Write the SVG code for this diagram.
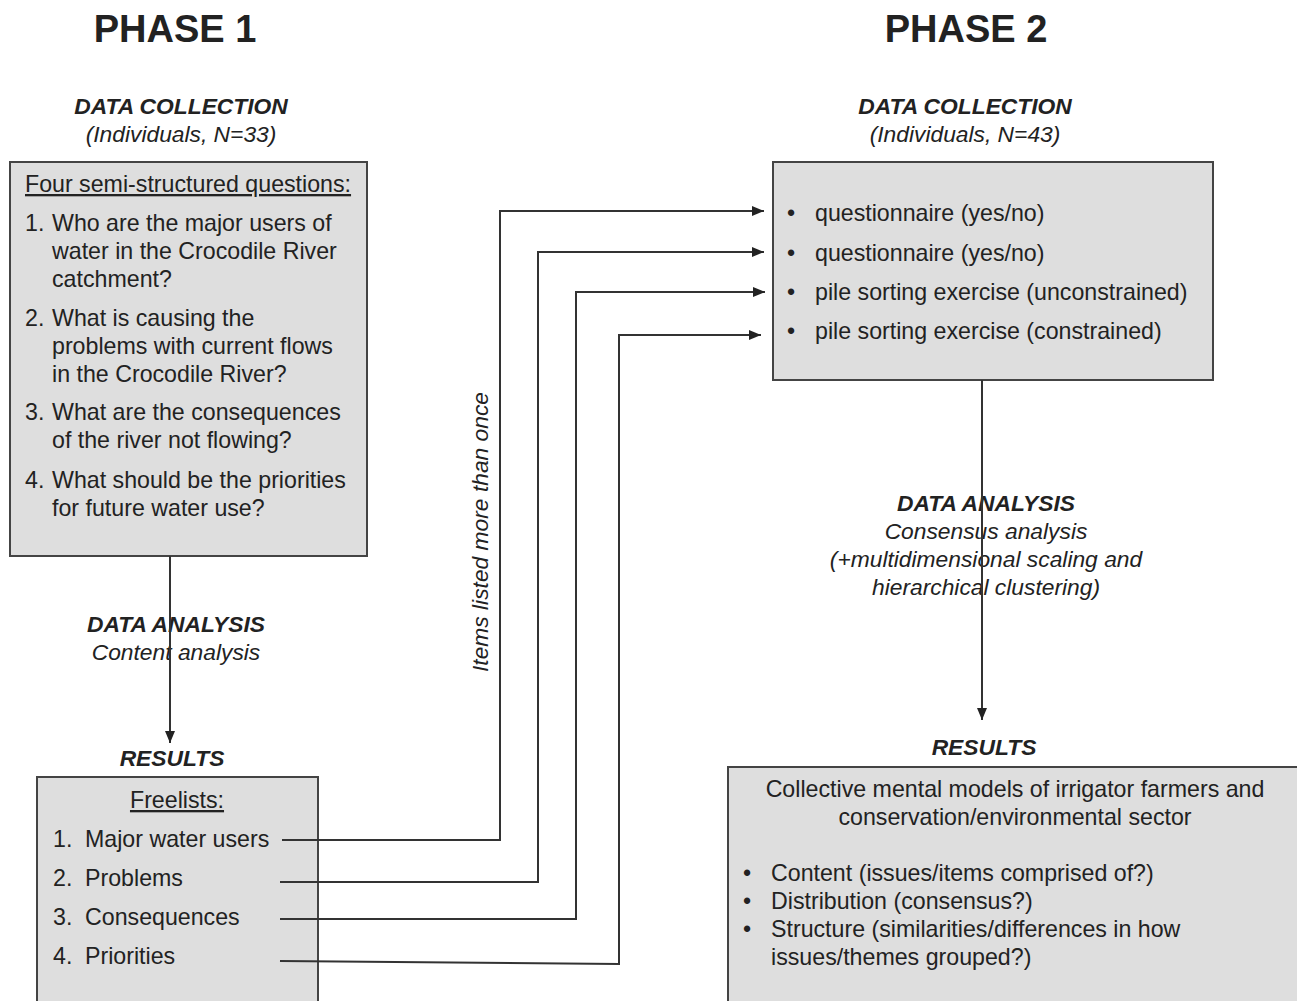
<svg xmlns="http://www.w3.org/2000/svg" width="1297" height="1001" viewBox="0 0 1297 1001">
<style>
text{font-family:"Liberation Sans",Arial,sans-serif;fill:#222;}
.ph{font-size:38px;font-weight:bold;text-anchor:middle;}
.h{font-size:22.8px;font-weight:bold;font-style:italic;text-anchor:middle;}
.i{font-size:22.8px;font-style:italic;text-anchor:middle;}
.t{font-size:23.2px;}
.c{text-anchor:middle;}
.u{text-decoration:underline;}
.box{fill:#dedede;stroke:#444;stroke-width:2;}
.ln{fill:none;stroke:#333;stroke-width:2;}
</style>
<defs>
<marker id="ah" markerUnits="userSpaceOnUse" markerWidth="12" markerHeight="12" viewBox="0 0 12 12" refX="12" refY="6" orient="auto">
<path d="M0,1 L12,6 L0,11 Z" fill="#222"/>
</marker>
</defs>
<rect width="1297" height="1001" fill="#fff"/>
<text class="ph" x="175" y="42">PHASE 1</text>
<text class="ph" x="966" y="42">PHASE 2</text>

<g id="p1-collection-label">
<text class="h" x="181" y="114">DATA COLLECTION</text>
<text class="i" x="181" y="142">(Individuals, N=33)</text>
</g>
<g id="p1-questions">
<rect class="box" x="10" y="162" width="357" height="394"/>
<text class="t u" x="25" y="192">Four semi-structured questions:</text>
<text class="t" x="25" y="231">1.</text>
<text class="t" x="52" y="231">Who are the major users of</text>
<text class="t" x="52" y="259">water in the Crocodile River</text>
<text class="t" x="52" y="287">catchment?</text>
<text class="t" x="25" y="326">2.</text>
<text class="t" x="52" y="326">What is causing the</text>
<text class="t" x="52" y="354">problems with current flows</text>
<text class="t" x="52" y="382">in the Crocodile River?</text>
<text class="t" x="25" y="420">3.</text>
<text class="t" x="52" y="420">What are the consequences</text>
<text class="t" x="52" y="448">of the river not flowing?</text>
<text class="t" x="25" y="488">4.</text>
<text class="t" x="52" y="488">What should be the priorities</text>
<text class="t" x="52" y="516">for future water use?</text>
</g>

<g id="p1-analysis-label">
<text class="h" x="176" y="632">DATA ANALYSIS</text>
<text class="i" x="176" y="660">Content analysis</text>
</g>
<g id="p1-results-label">
<text class="h" x="172" y="766">RESULTS</text>
</g>
<g id="p1-freelists">
<rect class="box" x="37" y="777" width="281" height="240"/>
<text class="t u c" x="177" y="808">Freelists:</text>
<text class="t" x="53" y="847">1.</text>
<text class="t" x="85" y="847">Major water users</text>
<text class="t" x="53" y="886">2.</text>
<text class="t" x="85" y="886">Problems</text>
<text class="t" x="53" y="925">3.</text>
<text class="t" x="85" y="925">Consequences</text>
<text class="t" x="53" y="964">4.</text>
<text class="t" x="85" y="964">Priorities</text>
</g>

<g id="p2-collection-label">
<text class="h" x="965" y="114">DATA COLLECTION</text>
<text class="i" x="965" y="142">(Individuals, N=43)</text>
</g>
<g id="p2-collection">
<rect class="box" x="773" y="162" width="440" height="218"/>
<text class="t" x="787" y="221">•</text>
<text class="t" x="815" y="221">questionnaire (yes/no)</text>
<text class="t" x="787" y="261">•</text>
<text class="t" x="815" y="261">questionnaire (yes/no)</text>
<text class="t" x="787" y="300">•</text>
<text class="t" x="815" y="300">pile sorting exercise (unconstrained)</text>
<text class="t" x="787" y="339">•</text>
<text class="t" x="815" y="339">pile sorting exercise (constrained)</text>
</g>

<g id="p2-analysis-label">
<text class="h" x="986" y="511">DATA ANALYSIS</text>
<text class="i" x="986" y="539">Consensus analysis</text>
<text class="i" x="986" y="567">(+multidimensional scaling and</text>
<text class="i" x="986" y="595">hierarchical clustering)</text>
</g>
<g id="p2-results-label">
<text class="h" x="984" y="755">RESULTS</text>
</g>
<g id="p2-results">
<rect class="box" x="728" y="767" width="580" height="250"/>
<text class="t c" x="1015" y="797">Collective mental models of irrigator farmers and</text>
<text class="t c" x="1015" y="825">conservation/environmental sector</text>
<text class="t" x="743" y="881">•</text>
<text class="t" x="771" y="881">Content (issues/items comprised of?)</text>
<text class="t" x="743" y="909">•</text>
<text class="t" x="771" y="909">Distribution (consensus?)</text>
<text class="t" x="743" y="937">•</text>
<text class="t" x="771" y="937">Structure (similarities/differences in how</text>
<text class="t" x="771" y="965">issues/themes grouped?)</text>
</g>

<g id="connectors">
<path class="ln" d="M170,556 V743" marker-end="url(#ah)"/>
<path class="ln" d="M982,380 V720" marker-end="url(#ah)"/>
<path class="ln" d="M282,840 H500 V211 H764" marker-end="url(#ah)"/>
<path class="ln" d="M280,882 H538 V252 H764" marker-end="url(#ah)"/>
<path class="ln" d="M280,919 H576 V292 H765" marker-end="url(#ah)"/>
<path class="ln" d="M280,961 L619,964 V335 H761" marker-end="url(#ah)"/>
<text class="i" transform="translate(488,532) rotate(-90)" x="0" y="0">Items listed more than once</text>
</g>
</svg>
